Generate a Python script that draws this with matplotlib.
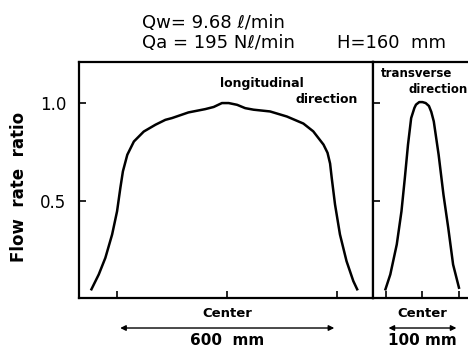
import numpy as np
import matplotlib.pyplot as plt

# longitudinal direction (mm from center, flow rate ratio)
x_long = [-371, -351, -333, -314.5, -301, -292, -285, -273, -255, -228, -196, -169,
          -151, -106, -60, -37, -14.5, 4, 27, 49, 72, 117, 163, 208, 235, 263,
          274, 281, 285.5, 294.5, 308, 326, 344.5, 355]
y_long = [0.045, 0.121, 0.206, 0.326, 0.445, 0.565, 0.65, 0.735, 0.803, 0.854, 0.889, 0.914,
          0.923, 0.952, 0.969, 0.98, 1.0, 1.0, 0.991, 0.974, 0.966, 0.957, 0.931, 0.895,
          0.855, 0.787, 0.745, 0.69, 0.616, 0.48, 0.326, 0.189, 0.087, 0.045]

# transverse direction
x_trans = [-50.4, -43.8, -35, -28.6, -24, -19.7, -15.4, -11, -8.8, -4.4, 0, 4.4, 8.8,
           12, 15.4, 22, 28.6, 35.1, 41.7, 49.7]
y_trans = [0.045, 0.121, 0.275, 0.445, 0.616, 0.787, 0.923, 0.975, 0.992, 1.005, 1.005, 1.0, 0.985,
           0.955, 0.906, 0.735, 0.53, 0.36, 0.172, 0.053]

fig = plt.figure(figsize=(4.68, 3.49), dpi=100)
ax1 = fig.add_axes([0.1688, 0.146, 0.628, 0.676])
ax2 = fig.add_axes([0.7968, 0.146, 0.2032, 0.676])

ax1.plot(x_long, y_long, color='black', lw=1.8, solid_joinstyle='round')
ax2.plot(x_trans, y_trans, color='black', lw=1.8, solid_joinstyle='round')

for ax in (ax1, ax2):
    ax.set_ylim(0, 1.21)
    ax.set_yticks([0.5, 1.0])
    ax.tick_params(direction='in', length=5, width=1.2, labelsize=12, pad=9)
    for s in ax.spines.values():
        s.set_linewidth(1.6)

ax1.set_xlim(-405, 398)
ax1.set_xticks([-300, 0, 300])
ax1.set_xticklabels([])
ax1.set_yticklabels(['0.5', '1.0'])
ax1.set_ylabel('Flow  rate  ratio', fontsize=12, fontweight='bold')
ax1.yaxis.set_label_coords(-0.175, 0.47)

ax2.set_xlim(-67.5, 62)
ax2.set_xticks([-50, 0, 50])
ax2.set_xticklabels([])
ax2.set_yticklabels([])
ax2.spines['right'].set_visible(False)

# labels inside
ax1.text(-20, 1.1, 'longitudinal', ha='left', va='center', fontsize=9, fontweight='bold')
ax1.text(358, 1.02, 'direction', ha='right', va='center', fontsize=9, fontweight='bold')
ax2.text(-57, 1.15, 'transverse', ha='left', va='center', fontsize=8.5, fontweight='bold')
ax2.text(62, 1.07, 'direction', ha='right', va='center', fontsize=8.5, fontweight='bold')

# bottom annotations
trans1 = ax1.get_xaxis_transform()
ax1.text(0, -0.065, 'Center', transform=trans1, ha='center', va='center', fontsize=9.5, fontweight='bold')
ax1.annotate('', xy=(-300, -0.127), xytext=(300, -0.127), xycoords=trans1, textcoords=trans1,
             arrowprops=dict(arrowstyle='<|-|>', color='black', lw=1.0, mutation_scale=8))
ax1.text(0, -0.18, '600  mm', transform=trans1, ha='center', va='center', fontsize=11, fontweight='bold')

trans2 = ax2.get_xaxis_transform()
ax2.text(0, -0.065, 'Center', transform=trans2, ha='center', va='center', fontsize=9.5, fontweight='bold')
ax2.annotate('', xy=(-50, -0.127), xytext=(50, -0.127), xycoords=trans2, textcoords=trans2,
             arrowprops=dict(arrowstyle='<|-|>', color='black', lw=1.0, mutation_scale=8))
ax2.text(0, -0.18, '100 mm', transform=trans2, ha='center', va='center', fontsize=11, fontweight='bold')

# header
fig.text(0.303, 0.935, 'Qw= 9.68 ℓ/min', ha='left', va='center', fontsize=13)
fig.text(0.303, 0.877, 'Qa = 195 Nℓ/min', ha='left', va='center', fontsize=13)
fig.text(0.72, 0.877, 'H=160  mm', ha='left', va='center', fontsize=13)

fig.savefig('out.png', dpi=100)
